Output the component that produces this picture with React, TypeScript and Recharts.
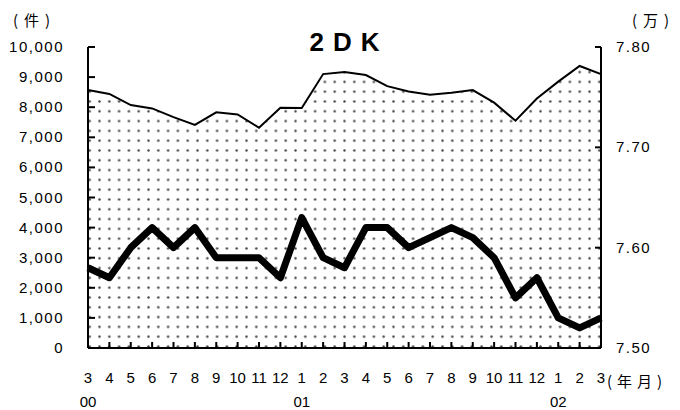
import { Area, ComposedChart, Line, XAxis, YAxis } from "recharts";

// 2000/3 .. 2002/3, monthly
const months = [3, 4, 5, 6, 7, 8, 9, 10, 11, 12, 1, 2, 3, 4, 5, 6, 7, 8, 9, 10, 11, 12, 1, 2, 3];
const yearStarts: Record<number, string> = { 0: "00", 10: "01", 22: "02" };

// 件数 (left axis, area)
const counts = [
  8570, 8440, 8070, 7960, 7670, 7410, 7830, 7760, 7320, 7980, 7970, 9100, 9170,
  9070, 8700, 8520, 8410, 8480, 8570, 8150, 7550, 8290, 8850, 9370, 9100,
];
// 賃料 万円 (right axis, thick line)
const rents = [
  7.58, 7.57, 7.6, 7.62, 7.6, 7.62, 7.59, 7.59, 7.59, 7.57, 7.63, 7.59, 7.58,
  7.62, 7.62, 7.6, 7.61, 7.62, 7.61, 7.59, 7.55, 7.57, 7.53, 7.52, 7.53,
];

const leftTicks = [0, 1000, 2000, 3000, 4000, 5000, 6000, 7000, 8000, 9000, 10000];
const rightTicks = [7.5, 7.6, 7.7, 7.8];

const data = months.map((m, i) => ({ i, month: m, count: counts[i], rent: rents[i] }));

const NUM_FONT = "'Liberation Sans', Arial, sans-serif";
const CJK_FONT = "'Noto Sans CJK JP', sans-serif";

function LeftTick({ x, y, payload }: any) {
  return (
    <g>
      <line x1={x} x2={x + 7} y1={y} y2={y} stroke="#000" strokeWidth={2} />
      <text x={x - 24} y={y} dy={5} textAnchor="end" fontSize={15} letterSpacing={1.5} fontFamily={NUM_FONT} fill="#000">
        {payload.value.toLocaleString("en-US")}
      </text>
    </g>
  );
}

function RightTick({ x, y, payload }: any) {
  return (
    <g>
      <line x1={x - 6} x2={x} y1={y} y2={y} stroke="#000" strokeWidth={2} />
      <text x={x + 15} y={y} dy={5} textAnchor="start" fontSize={15} letterSpacing={1.5} fontFamily={NUM_FONT} fill="#000">
        {payload.value.toFixed(2)}
      </text>
    </g>
  );
}

function MonthTick({ x, y, payload }: any) {
  const idx = payload.value as number;
  return (
    <g>
      <line x1={x} x2={x} y1={y - 6} y2={y} stroke="#000" strokeWidth={2} />
      <text x={x} y={y + 35} textAnchor="middle" fontSize={15} fontFamily={NUM_FONT} fill="#000">
        {months[idx]}
      </text>
      {yearStarts[idx] && (
        <text x={x} y={y + 59} textAnchor="middle" fontSize={15} fontFamily={NUM_FONT} fill="#000">
          {yearStarts[idx]}
        </text>
      )}
    </g>
  );
}

export default function App() {
  return (
    <div style={{ position: "absolute", left: 0, top: 0, width: 680, height: 410, background: "#fff" }}>
      <ComposedChart width={680} height={410} data={data} margin={{ top: 47, right: 0, bottom: 0, left: 0 }}>
        <defs>
          <pattern id="dots" patternUnits="userSpaceOnUse" x={0} y={2} width={9.8} height={9.8}>
            <circle cx={1.5} cy={1.5} r={1.2} fill="#444" />
          </pattern>
        </defs>
        <XAxis
          dataKey="i"
          type="number"
          domain={[0, 24]}
          ticks={data.map((d) => d.i)}
          interval={0}
          height={62}
          tickSize={0}
          tickMargin={0}
          tickLine={false}
          axisLine={{ stroke: "#000", strokeWidth: 2 }}
          tick={<MonthTick />}
        />
        <YAxis
          yAxisId="left"
          orientation="left"
          width={88}
          domain={[0, 10000]}
          ticks={leftTicks}
          interval={0}
          tickSize={0}
          tickMargin={0}
          tickLine={false}
          axisLine={{ stroke: "#000", strokeWidth: 2 }}
          tick={<LeftTick />}
        />
        <YAxis
          yAxisId="right"
          orientation="right"
          width={79}
          domain={[7.5, 7.8]}
          ticks={rightTicks}
          interval={0}
          tickSize={0}
          tickMargin={0}
          tickLine={false}
          axisLine={{ stroke: "#000", strokeWidth: 2 }}
          tick={<RightTick />}
        />
        <Area
          yAxisId="left"
          type="linear"
          dataKey="count"
          stroke="#000"
          strokeWidth={2}
          fill="url(#dots)"
          fillOpacity={1}
          isAnimationActive={false}
        />
        <Line
          yAxisId="right"
          type="linear"
          dataKey="rent"
          stroke="#000"
          strokeWidth={7}
          strokeLinejoin="round"
          dot={false}
          activeDot={false}
          isAnimationActive={false}
        />
      </ComposedChart>
      <div style={{ position: "absolute", left: 13, top: 10, fontFamily: CJK_FONT, fontSize: 15, lineHeight: "20px", letterSpacing: 6 }}>(件)</div>
      <div style={{ position: "absolute", left: 632, top: 10, fontFamily: CJK_FONT, fontSize: 15, lineHeight: "20px", letterSpacing: 6 }}>(万)</div>
      <div style={{ position: "absolute", left: 607, top: 371, fontFamily: CJK_FONT, fontSize: 15, lineHeight: "20px", letterSpacing: 5 }}>(年月)</div>
      <div
        style={{
          position: "absolute",
          left: 240,
          width: 200,
          top: 27,
          textAlign: "center",
          fontFamily: NUM_FONT,
          fontSize: 26,
          fontWeight: 700,
          letterSpacing: 9,
          lineHeight: "30px",
          paddingLeft: 9,
        }}
      >
        2DK
      </div>
    </div>
  );
}
